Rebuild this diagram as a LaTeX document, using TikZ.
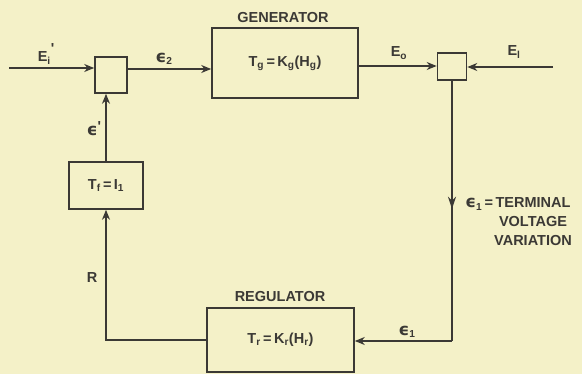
\documentclass[tikz,border=0pt]{standalone}
\usepackage{fontspec}
\setmainfont{Liberation Sans}
\newfontfamily\grk{DejaVu Sans}
\usetikzlibrary{arrows.meta,positioning,calc,decorations.markings}
\definecolor{fpaper}{HTML}{F4F1C8}
\definecolor{fink}{HTML}{3B3935}
\tikzset{
  block/.style   = {draw=fink, line width=1.6pt, rectangle, align=center,
                    inner sep=0pt, text=fink},
  sumbox/.style  = {draw=fink, line width=1.6pt, rectangle, inner sep=0pt},
  sig/.style     = {-{Stealth[length=10pt,width=8pt]}, line width=1.5pt, fink},
  wire/.style    = {line width=1.6pt, fink},
  lbl/.style     = {text=fink, inner sep=1pt},
  midtip/.style  = {postaction={decorate}, decoration={markings,
                    mark=at position #1 with {\arrow[fink]{Stealth[length=12pt,width=8pt]}}}},
}
\newcommand{\eps}{{\grk\bfseries\scalebox{1.15}{ϵ}}}
\newcommand{\sbs}[1]{\textsubscript{#1}}

\begin{document}
\begin{tikzpicture}[x=1pt,y=-1pt,font=\bfseries\fontsize{14.5}{19}\selectfont]
% paper and frame of the picture
\fill[fpaper] (0,0) rectangle (582,374);
\useasboundingbox (0,0) rectangle (582,374);
% blocks
\node[sumbox, minimum width=32, minimum height=36] (sumA) at (111,75) {};
\node[block, minimum width=146, minimum height=70] (gen) at (285,63) {T\sbs{g}\,=\,K\sbs{g}(H\sbs{g})};
\node[sumbox, minimum width=29, minimum height=27] (sumB) at (452,66.5) {};
\node[block, minimum width=147, minimum height=64] (reg) at (280.5,340) {T\sbs{r}\,=\,K\sbs{r}(H\sbs{r})};
\node[block, minimum width=74, minimum height=47] (tf) at (106,185.5) {T\sbs{f}\,=\,I\sbs{1}};
% block titles
\node[lbl] (genname) at (283,18) {GENERATOR};
\node[lbl] (regname) at (280,297) {REGULATOR};
% free ends and corners
\coordinate (ein) at (9,68);
\coordinate (eload) at (553,67);
\coordinate (cornR) at (452,341);
\coordinate (cornL) at (105,340);
% signals
\draw[sig] (ein) -- (ein -| sumA.west);
\draw[sig] (sumA.east |- 0,69) -- (gen.west |- 0,69);
\draw[sig] (gen.east |- 0,66) -- (sumB.west |- 0,66);
\draw[sig] (eload) -- (eload -| sumB.east);
\draw[wire, midtip=128pt] (sumB.south) -- (cornR);
\draw[sig] (cornR) -- (reg.east |- cornR);
\draw[sig] (reg.west |- cornL) -- (cornL -| tf.south) -- (tf.south);
\draw[sig] (tf.north) -- (tf.north |- sumA.south);
% signal names
\node[lbl] (einame) at (46,54) {E\sbs{i}\raisebox{8pt}{\textquotesingle}};
\node[lbl] (e2name) at (164,59) {\eps\sbs{2}};
\node[lbl] (e0name) at (399,53) {E\sbs{o}};
\node[lbl] (elname) at (514,52) {E\sbs{l}};
\node[lbl] (epname) at (94,129) {\eps\raisebox{4pt}{\textquotesingle}};
\node[lbl] (rname) at (92,278) {R};
\node[lbl] (e1name) at (407,332) {\eps\sbs{1}};
\node[lbl, align=center] (tvname) at (533,222) {\llap{\eps\sbs{1}\,=\,}TERMINAL\\VOLTAGE\\VARIATION};
\end{tikzpicture}
\end{document}
